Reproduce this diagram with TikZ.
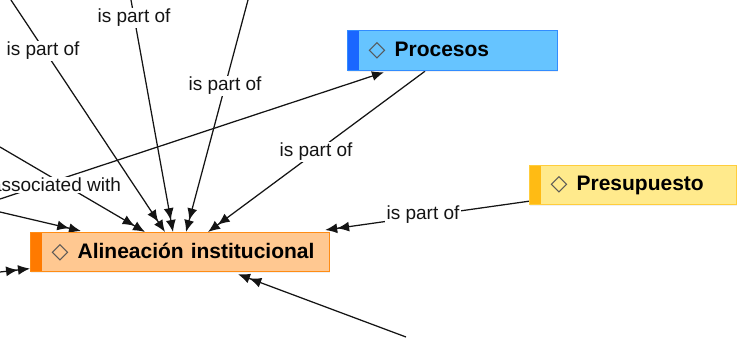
\documentclass[tikz,border=0pt]{standalone}
\usepackage{fontspec}
\setmainfont{Liberation Sans}
\newfontfamily\diafont{DejaVu Sans}
\usetikzlibrary{arrows.meta,calc,shadows}
\definecolor{alinfill}{RGB}{255,200,145}
\definecolor{alindraw}{RGB}{255,140,20}
\definecolor{alinbar}{RGB}{255,122,0}
\definecolor{procfill}{RGB}{102,196,255}
\definecolor{procdraw}{RGB}{50,140,255}
\definecolor{procbar}{RGB}{26,102,255}
\definecolor{presfill}{RGB}{255,234,140}
\definecolor{presdraw}{RGB}{255,205,60}
\definecolor{presbar}{RGB}{255,187,20}
\definecolor{inkc}{RGB}{20,20,20}
\definecolor{diac}{RGB}{85,85,85}
\newcommand{\dmd}{\hspace*{21pt}\makebox[26pt][l]{\diafont\fontsize{22}{22}\selectfont\color{diac}◇}}
\pgfdeclarelayer{bg}
\pgfsetlayers{bg,main}
\tikzset{
  conceptbox/.style n args={4}{draw=#2, fill=#1, line width=1.2pt,
    anchor=north west, minimum width=#4, minimum height=39pt,
    inner xsep=0pt, inner ysep=0pt, text width=#4, align=left,
    font=\fontsize{21}{24}\selectfont\bfseries, text=black,
    drop shadow={opacity=0.12, shadow xshift=0.8pt, shadow yshift=-1.5pt},
    path picture={\fill[#3] (path picture bounding box.north west) rectangle
      ([xshift=11pt]path picture bounding box.south west);}},
  edge/.style={draw=inkc, line width=1.25pt,
    -{Latex[length=12pt,width=10pt] Latex[length=12pt,width=10pt]}},
  edgeone/.style={draw=inkc, line width=1.25pt, -{Latex[length=12pt,width=10pt]}},
  lbl/.style={fill=white, inner sep=1.5pt, text=inkc, font=\fontsize{19}{21}\selectfont}
}
\begin{document}
\begin{tikzpicture}[x=1pt,y=-1pt]
\path[use as bounding box] (0,0) rectangle (738,337);
% concept boxes
\node[conceptbox={alinfill}{alindraw}{alinbar}{299pt}] (alin) at (30,232) {\dmd\mbox{Alineación institucional}};
\node[conceptbox={procfill}{procdraw}{procbar}{210pt}, minimum height=40pt] (proc) at (347,30) {\dmd\mbox{Procesos}};
\node[conceptbox={presfill}{presdraw}{presbar}{207pt}] (pres) at (529,165) {\dmd\mbox{Presupuesto}};
% free ends
\coordinate (t1) at (11,0);
\coordinate (t2) at (131,0);
\coordinate (t3) at (248,0);
\coordinate (l1) at (0,147);
\coordinate (l2) at (0,199);
\coordinate (l3) at (0,212);
\coordinate (l4) at (0,272);
\coordinate (b1) at (406,337);
% labels
\node[lbl] (lab1) at (43,51) {is part of};
\node[lbl] (lab2) at (134,18) {is part of};
\node[lbl] (lab3) at (225,86) {is part of};
\node[lbl] (lab4) at (316,152) {is part of};
\node[lbl] (lab5) at (423,215) {is part of};
\node[lbl] (lab6) at (56,185) {associated with};
% connectors
\begin{pgfonlayer}{bg}
\draw[edge] (t1) -- ($(alin.north west)+(135,0)$);
\draw[edge] (t2) -- ($(alin.north west)+(143,0)$);
\draw[edge] (t3) -- ($(alin.north west)+(156,0)$);
\draw[edge] (l1) -- ($(alin.north west)+(115,0)$);
\draw[edge] (l3) -- ($(alin.north west)+(51,-1)$);
\draw[edge] (l4) -- ($(alin.west)+(0,16.5)$);
\draw[edge] (b1) -- ($(alin.south west)+(208,2)$);
\draw[edge] ($(proc.south west)+(78,0)$) -- ($(alin.north west)+(178,0)$);
\draw[edge] ($(pres.south west)+(0,-4)$) -- ($(alin.north east)+(-5,-2)$);
\draw[edgeone] (l2) -- ($(proc.south west)+(37,1)$);
\end{pgfonlayer}
\end{tikzpicture}
\end{document}
